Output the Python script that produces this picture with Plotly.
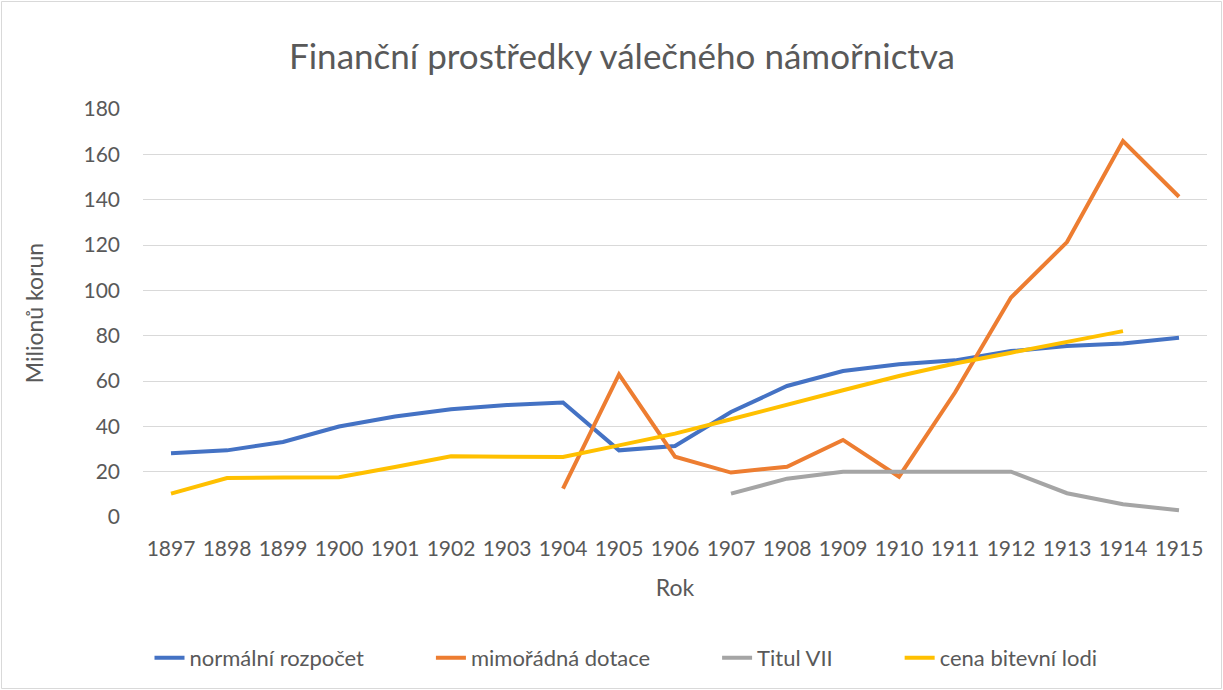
import plotly.graph_objects as go

years = list(range(1897, 1916))
normalni = [28.1, 29.4, 33.1, 39.9, 44.3, 47.5, 49.4, 50.5, 29.4, 31.3, 46.3, 57.8, 64.4, 67.4, 69.1, 73.2, 75.4, 76.5, 79.1]
mimoradna = [None]*7 + [12.5, 62.9, 26.6, 19.6, 22.2, 34.0, 17.8, 54.9, 96.8, 121.3, 165.9, 141.3]
titul = [None]*10 + [10.3, 16.9, 20.0, 20.0, 20.0, 20.0, 10.5, 5.6, 3.0]
cena = [10.3, 17.2, 17.4, 17.5, 22.1, 26.8, 26.6, 26.5, 31.6, 36.8, 43.1, 49.3, 55.9, 62.2, 67.7, 72.5, 77.4, 82.0, None]

series = [
    ("normální rozpočet", normalni, "#4472C4"),
    ("mimořádná dotace", mimoradna, "#ED7D31"),
    ("Titul VII", titul, "#A5A5A5"),
    ("cena bitevní lodi", cena, "#FFC000"),
]

FONT = "Lato"
PAD = "\u00a0" * 11
fig = go.Figure()
for i, (name, vals, col) in enumerate(series):
    label = name + (PAD if i < len(series) - 1 else "")
    fig.add_trace(go.Scatter(x=years, y=vals, name=label, mode="lines",
                             line=dict(color=col, width=4), connectgaps=False))

L, R, T, B = 143, 16, 109, 173
W, H = 1223, 690
pw, ph = W - L - R, H - T - B

fig.update_layout(
    width=W, height=H,
    margin=dict(l=L, r=R, t=T, b=B, autoexpand=False),
    paper_bgcolor="white", plot_bgcolor="white",
    font=dict(family=FONT, color="#595959", size=21),
    title=dict(text="Finanční prostředky válečného námořnictva", x=622 / W, xanchor="center",
               y=1 - 57 / H, yanchor="middle", font=dict(size=35, color="#595959", family=FONT)),
    xaxis=dict(range=[1896.5, 1915.5], tickvals=years, ticktext=[str(y) for y in years],
               showgrid=False, zeroline=False, showline=False, ticks="",
               ticklabelstandoff=17, tickfont=dict(size=21),
               title=dict(text="Rok", font=dict(size=23), standoff=20)),
    yaxis=dict(range=[0, 180], tickvals=list(range(0, 181, 20)), showgrid=True,
               gridcolor="#D9D9D9", gridwidth=1, zeroline=False, showline=False, ticks="",
               ticklabelstandoff=22, tickfont=dict(size=21),
               title=dict(text="Milionů korun", font=dict(size=23), standoff=33)),
    legend=dict(orientation="h", x=(626 - L) / pw, xanchor="center", y=(T + ph - 658) / ph,
                yanchor="middle", font=dict(size=22), traceorder="normal"),
    showlegend=True,
)

# outer chart border
fig.add_shape(type="rect", xref="paper", yref="paper",
              x0=(1.5 - L) / pw, x1=(W - 1.5 - L) / pw,
              y0=(T + ph - (H - 1.5)) / ph, y1=(T + ph - 1.5) / ph,
              line=dict(color="#D9D9D9", width=1), fillcolor="rgba(0,0,0,0)", layer="below")

fig.write_html("out.html", config={"displayModeBar": False},
               post_script="document.body.style.margin='0';")
